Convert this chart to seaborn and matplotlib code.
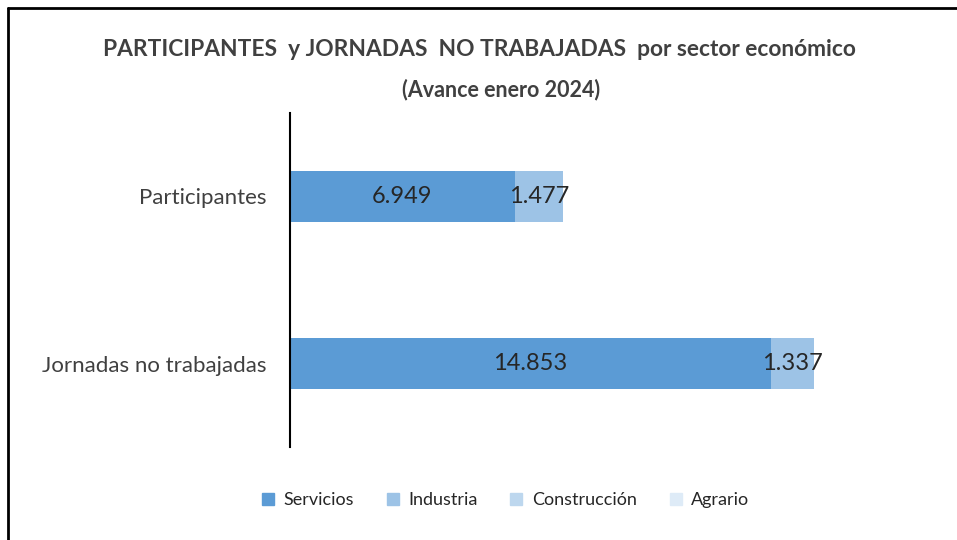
import matplotlib
matplotlib.use("Agg")
import matplotlib.pyplot as plt
from matplotlib.lines import Line2D
import seaborn as sns
import numpy as np
import pandas as pd

categories = ["Participantes", "Jornadas no trabajadas"]
sectors = ["Servicios", "Industria", "Construcción", "Agrario"]
servicios = [6949, 14853]
industria = [1477, 1337]
construccion = [0, 0]
agrario = [0, 0]
colors = ["#5B9BD5", "#9DC3E6", "#BDD7EE", "#DEEBF7"]
title = "PARTICIPANTES  y JORNADAS  NO TRABAJADAS  por sector económico"
subtitle = "(Avance enero 2024)"

sns.set_theme(style="white")
FONT = ["Lato", "DejaVu Sans"]
plt.rcParams["font.family"] = FONT

W, H = 957, 540
fig = plt.figure(figsize=(W / 100, H / 100), dpi=100)
ax = fig.add_axes([290 / W, 1 - 447 / H, (934 - 290) / W, (447 - 113) / H])

series = [servicios, industria, construccion, agrario]
vals = np.array(series, dtype=float)
cum = np.cumsum(vals, axis=0)

# draw layered cumulative bars, largest first
for i in range(len(sectors) - 1, -1, -1):
    df = pd.DataFrame({"cat": categories, "val": cum[i]})
    sns.barplot(data=df, x="val", y="cat", orient="h", color=colors[i],
                width=0.31, saturation=1, ax=ax, order=categories,
                linewidth=0, edgecolor="none")

for j in range(len(categories)):
    for i in range(len(sectors)):
        v = vals[i, j]
        if v > 0:
            left = cum[i, j] - v
            ax.text(left + v / 2, j, f"{int(v):,}".replace(",", "."),
                    ha="center", va="center", fontsize=17, color="#262626")

ax.set_xlim(0, 19900)
ax.set_ylim(1.5, -0.5)
ax.set_xlabel("")
ax.set_ylabel("")
ax.set_xticks([])
for s in ["top", "right", "bottom"]:
    ax.spines[s].set_visible(False)
ax.spines["left"].set_color("black")
ax.spines["left"].set_linewidth(1.5)
ax.tick_params(axis="y", length=0, pad=17, labelsize=16, labelcolor="#404040")
ax.set_facecolor("none")

fig.text(479 / W, 1 - 50 / H, title, ha="center", va="center",
         fontsize=16.4, fontweight="bold", color="#404040")
fig.text(501 / W, 1 - 90 / H, subtitle, ha="center", va="center",
         fontsize=15.5, fontweight="bold", color="#404040")

handles = [Line2D([0], [0], marker="s", linestyle="none", markersize=8,
                  markerfacecolor=c, markeredgecolor=c) for c in colors]
fig.legend(handles, sectors, loc="center", bbox_to_anchor=(505 / W, 1 - 500 / H),
           ncol=4, frameon=False, fontsize=13, handlelength=0.8,
           handletextpad=0.45, columnspacing=1.75, labelcolor="#262626")

# figure border (top and left)
fig.add_artist(Line2D([8 / W, 1], [1 - 8 / H, 1 - 8 / H], color="black", lw=2,
                      transform=fig.transFigure))
fig.add_artist(Line2D([8 / W, 8 / W], [0, 1 - 8 / H], color="black", lw=2,
                      transform=fig.transFigure))

fig.savefig("out.png", dpi=100, facecolor="white")
